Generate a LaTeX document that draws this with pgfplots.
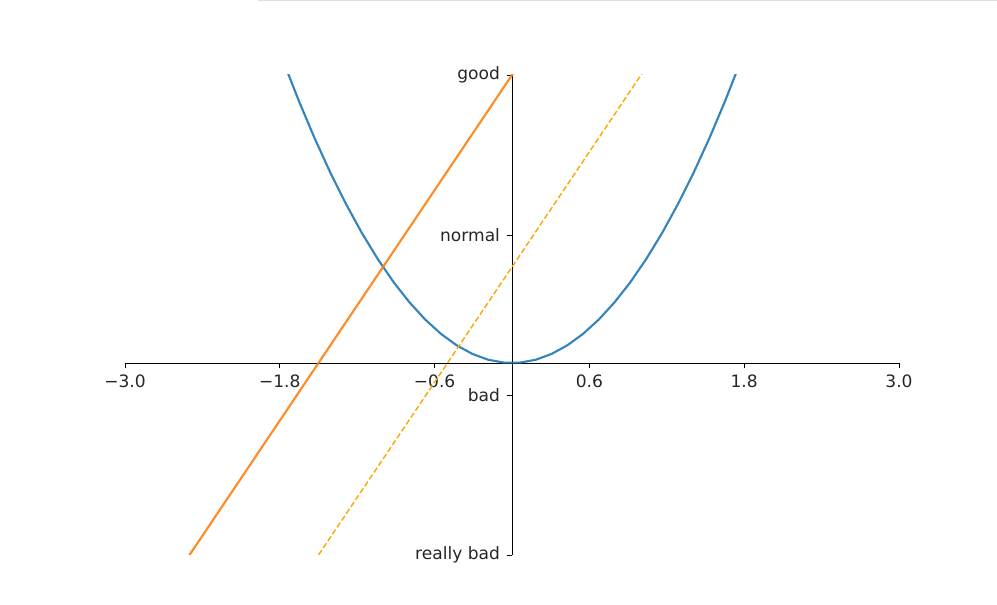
\documentclass[border=0pt]{standalone}
\usepackage{pgfplots}
\pgfplotsset{compat=1.18}
\usepackage{fontspec}
\setmainfont{DejaVu Sans}
\definecolor{mplblue}{HTML}{1F77B4}
\definecolor{mplorange}{HTML}{FF7F0E}
\definecolor{orange2}{HTML}{FFA500}
\begin{document}
\begin{tikzpicture}[x=1pt,y=1pt]
\path[use as bounding box] (-93.75pt,-37.5pt) rectangle (654pt,416.25pt);
\draw[gray!25,line width=1pt] (100pt,416pt) -- (654pt,416pt);
\begin{axis}[
  at={(0pt,0pt)}, anchor=south west,
  scale only axis, width=580.5pt, height=360pt,
  xmin=-3, xmax=3, ymin=-2, ymax=3,
  axis lines=middle, axis line style={-, line width=0.7pt, black},
  xtick={-3,-1.8,-0.6,0.6,1.8,3},
  xticklabels={−3.0,−1.8,−0.6,0.6,1.8,3.0},
  ytick={-2,-0.3333,1.3333,3},
  yticklabels={really bad,bad,normal,good},
  tick align=outside,
  major tick length=4pt,
  tick style={black, line width=0.7pt},
  ticklabel style={font=\fontsize{12.8}{14}\selectfont, text=black!85},
  xticklabel style={anchor=north, yshift=-1.5pt},
  yticklabel style={anchor=east, xshift=-1.5pt},
  clip=true,
]
\addplot[mplblue, line width=1.6pt, opacity=0.9] coordinates {
(-1.8980,3.6023) (-1.7755,3.1524) (-1.6531,2.7327) (-1.5306,2.3428)
(-1.4082,1.9830) (-1.2857,1.6531) (-1.1633,1.3532) (-1.0408,1.0833)
(-0.9184,0.8434) (-0.7959,0.6335) (-0.6735,0.4536) (-0.5510,0.3036)
(-0.4286,0.1837) (-0.3061,0.0937) (-0.1837,0.0337) (-0.0612,0.0037)
(0.0612,0.0037) (0.1837,0.0337) (0.3061,0.0937) (0.4286,0.1837)
(0.5510,0.3036) (0.6735,0.4536) (0.7959,0.6335) (0.9184,0.8434)
(1.0408,1.0833) (1.1633,1.3532) (1.2857,1.6531) (1.4082,1.9830)
(1.5306,2.3428) (1.6531,2.7327) (1.7755,3.1524) (1.8980,3.6023)
};
\addplot[mplorange, line width=1.6pt, opacity=0.9] coordinates {(-3,-3) (3,9)};
\addplot[orange2, line width=1.05pt, dash pattern=on 4.2pt off 2pt] coordinates {(-3,-5) (3,7)};
\end{axis}
\end{tikzpicture}
\end{document}
